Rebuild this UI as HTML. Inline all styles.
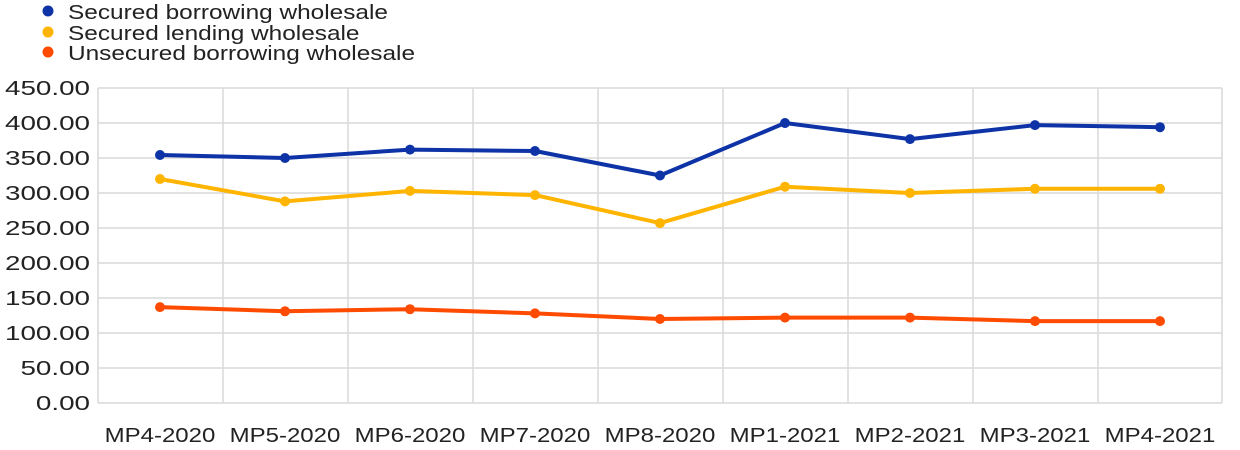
<!DOCTYPE html>
<html><head><style>body{margin:0;background:#fff}svg{display:block}</style></head><body>
<svg width="1240" height="450" xmlns="http://www.w3.org/2000/svg" font-family="Liberation Sans, sans-serif">
<rect width="1240" height="450" fill="#fff"/>
<g stroke="#d9d9d9" stroke-width="1.5" fill="none">
<path d="M98 88H1222M98 123H1222M98 158H1222M98 193H1222M98 228H1222M98 263H1222M98 298H1222M98 333H1222M98 368H1222M98 403H1222"/>
<path d="M98 88V403M223 88V403M348 88V403M473 88V403M598 88V403M723 88V403M848 88V403M973 88V403M1098 88V403M1222 88V403"/>
</g>
<g font-size="20" fill="#222" text-anchor="end" transform="translate(90,0) scale(1.39,1)">
<text x="0" y="95">450.00</text><text x="0" y="130">400.00</text><text x="0" y="165">350.00</text><text x="0" y="200">300.00</text><text x="0" y="235">250.00</text><text x="0" y="270">200.00</text><text x="0" y="305">150.00</text><text x="0" y="340">100.00</text><text x="0" y="375">50.00</text><text x="0" y="410">0.00</text>
</g>
<g font-size="20" fill="#222" text-anchor="middle">
<text transform="translate(160,442) scale(1.2,1)">MP4-2020</text><text transform="translate(285,442) scale(1.2,1)">MP5-2020</text><text transform="translate(410,442) scale(1.2,1)">MP6-2020</text><text transform="translate(535,442) scale(1.2,1)">MP7-2020</text><text transform="translate(660,442) scale(1.2,1)">MP8-2020</text><text transform="translate(785,442) scale(1.2,1)">MP1-2021</text><text transform="translate(910,442) scale(1.2,1)">MP2-2021</text><text transform="translate(1035,442) scale(1.2,1)">MP3-2021</text><text transform="translate(1160,442) scale(1.2,1)">MP4-2021</text>
</g>
<g stroke-width="4" fill="none" stroke-linejoin="round">
<polyline stroke="#0d33a6" points="160,155 285,158 410,149.6 535,151 660,175.5 785,123 910,139.1 1035,125.1 1160,127.2"/>
<polyline stroke="#ffb400" points="160,179 285,201.4 410,190.9 535,195.1 660,223.1 785,186.7 910,193 1035,188.8 1160,188.8"/>
<polyline stroke="#ff4b00" points="160,307.1 285,311.3 410,309.2 535,313.4 660,319 785,317.6 910,317.6 1035,321.1 1160,321.1"/>
</g>
<g fill="#0d33a6"><circle cx="160" cy="155" r="5"/><circle cx="285" cy="158" r="5"/><circle cx="410" cy="149.6" r="5"/><circle cx="535" cy="151" r="5"/><circle cx="660" cy="175.5" r="5"/><circle cx="785" cy="123" r="5"/><circle cx="910" cy="139.1" r="5"/><circle cx="1035" cy="125.1" r="5"/><circle cx="1160" cy="127.2" r="5"/></g>
<g fill="#ffb400"><circle cx="160" cy="179" r="5"/><circle cx="285" cy="201.4" r="5"/><circle cx="410" cy="190.9" r="5"/><circle cx="535" cy="195.1" r="5"/><circle cx="660" cy="223.1" r="5"/><circle cx="785" cy="186.7" r="5"/><circle cx="910" cy="193" r="5"/><circle cx="1035" cy="188.8" r="5"/><circle cx="1160" cy="188.8" r="5"/></g>
<g fill="#ff4b00"><circle cx="160" cy="307.1" r="5"/><circle cx="285" cy="311.3" r="5"/><circle cx="410" cy="309.2" r="5"/><circle cx="535" cy="313.4" r="5"/><circle cx="660" cy="319" r="5"/><circle cx="785" cy="317.6" r="5"/><circle cx="910" cy="317.6" r="5"/><circle cx="1035" cy="321.1" r="5"/><circle cx="1160" cy="321.1" r="5"/></g>
<circle cx="48" cy="11" r="5.5" fill="#0d33a6"/><circle cx="48" cy="32" r="5.5" fill="#ffb400"/><circle cx="48" cy="52" r="5.5" fill="#ff4b00"/>
<g font-size="20" fill="#222">
<text transform="translate(68,19) scale(1.22,1)">Secured borrowing wholesale</text>
<text transform="translate(68,40) scale(1.22,1)">Secured lending wholesale</text>
<text transform="translate(68,60) scale(1.22,1)">Unsecured borrowing wholesale</text>
</g>
</svg>
</body></html>
